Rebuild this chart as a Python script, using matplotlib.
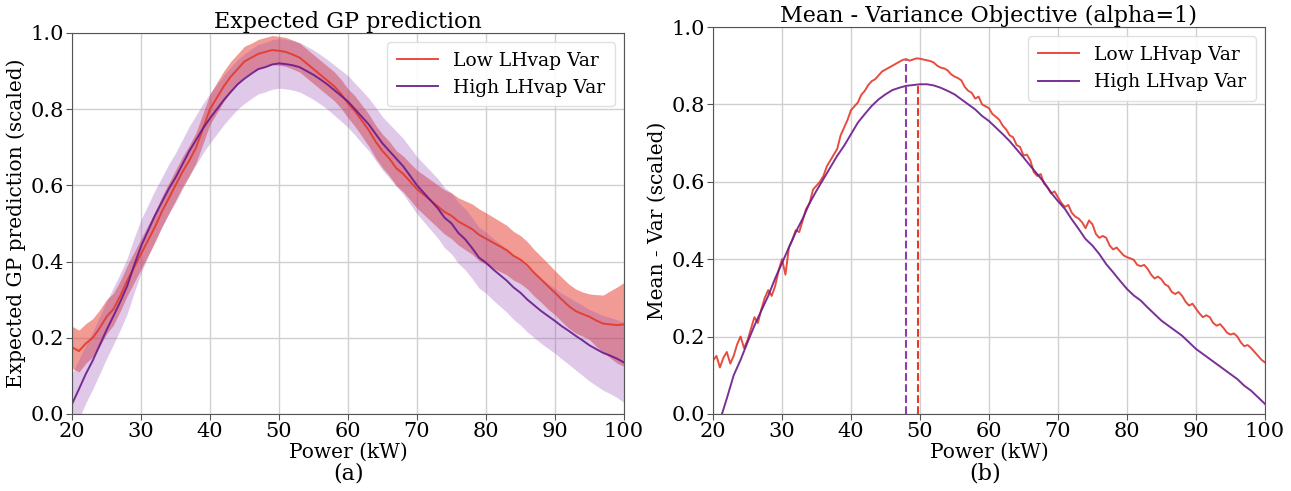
import numpy as np
import matplotlib
matplotlib.use('Agg')
import matplotlib.pyplot as plt

plt.rcParams['font.family'] = ['DejaVu Serif']

RED = '#e5392a'
PURPLE = '#6a1a8c'

# left panel: expected GP prediction, 20..100 kW in 1 kW steps
power = list(range(20, 101))

low_mean = [0.175, 0.165, 0.185, 0.200, 0.225, 0.255, 0.275, 0.310, 0.350, 0.385,
            0.420, 0.455, 0.490, 0.530, 0.565, 0.600, 0.635, 0.665, 0.700, 0.750,
            0.800, 0.830, 0.860, 0.885, 0.905, 0.925, 0.935, 0.945, 0.950, 0.955,
            0.953, 0.950, 0.943, 0.935, 0.920, 0.905, 0.890, 0.875, 0.860, 0.840,
            0.815, 0.795, 0.770, 0.745, 0.715, 0.690, 0.670, 0.645, 0.630, 0.610,
            0.590, 0.575, 0.560, 0.545, 0.530, 0.520, 0.505, 0.495, 0.485, 0.470,
            0.460, 0.450, 0.440, 0.430, 0.415, 0.405, 0.390, 0.370, 0.353, 0.335,
            0.318, 0.300, 0.283, 0.270, 0.262, 0.255, 0.245, 0.237, 0.235, 0.233,
            0.235]
low_band = [0.055, 0.055, 0.052, 0.050, 0.048, 0.045, 0.042, 0.040, 0.040, 0.040,
            0.040, 0.040, 0.040, 0.040, 0.040, 0.040, 0.040, 0.040, 0.040, 0.040,
            0.040, 0.040, 0.040, 0.040, 0.040, 0.040, 0.038, 0.038, 0.038, 0.038,
            0.038, 0.038, 0.038, 0.038, 0.038, 0.038, 0.038, 0.038, 0.038, 0.038,
            0.038, 0.040, 0.041, 0.042, 0.043, 0.044, 0.045, 0.046, 0.047, 0.048,
            0.050, 0.052, 0.054, 0.056, 0.058, 0.060, 0.062, 0.064, 0.066, 0.068,
            0.068, 0.067, 0.066, 0.065, 0.064, 0.063, 0.062, 0.061, 0.060, 0.060,
            0.058, 0.058, 0.058, 0.058, 0.058, 0.060, 0.068, 0.075, 0.088, 0.100,
            0.110]

high_mean = [0.026, 0.065, 0.105, 0.140, 0.180, 0.220, 0.257, 0.295, 0.336, 0.390,
             0.440, 0.480, 0.520, 0.555, 0.590, 0.620, 0.655, 0.690, 0.720, 0.750,
             0.776, 0.800, 0.824, 0.845, 0.865, 0.880, 0.893, 0.905, 0.910, 0.917,
             0.920, 0.918, 0.915, 0.910, 0.900, 0.890, 0.878, 0.865, 0.850, 0.835,
             0.820, 0.800, 0.780, 0.760, 0.735, 0.710, 0.690, 0.670, 0.650, 0.625,
             0.600, 0.580, 0.560, 0.540, 0.515, 0.500, 0.475, 0.458, 0.435, 0.410,
             0.397, 0.380, 0.365, 0.350, 0.332, 0.318, 0.300, 0.285, 0.270, 0.257,
             0.244, 0.230, 0.218, 0.205, 0.193, 0.180, 0.170, 0.160, 0.153, 0.145,
             0.135]
high_band = [0.080, 0.078, 0.076, 0.075, 0.075, 0.075, 0.075, 0.074, 0.073, 0.072,
             0.070, 0.068, 0.066, 0.065, 0.065, 0.065, 0.065, 0.065, 0.065, 0.065,
             0.065, 0.065, 0.065, 0.065, 0.065, 0.065, 0.065, 0.065, 0.065, 0.065,
             0.065, 0.065, 0.065, 0.065, 0.065, 0.065, 0.065, 0.065, 0.066, 0.067,
             0.068, 0.068, 0.069, 0.069, 0.070, 0.070, 0.071, 0.072, 0.073, 0.074,
             0.075, 0.076, 0.077, 0.078, 0.079, 0.080, 0.080, 0.080, 0.080, 0.080,
             0.080, 0.081, 0.082, 0.083, 0.084, 0.085, 0.085, 0.085, 0.085, 0.085,
             0.085, 0.086, 0.088, 0.090, 0.092, 0.094, 0.096, 0.098, 0.100, 0.102,
             0.105]

# right panel: mean - variance objective
power_fine = [20 + 0.5 * i for i in range(161)]
mv_low = [0.138, 0.150, 0.120, 0.145, 0.160, 0.130, 0.150, 0.180, 0.200, 0.170,
          0.190, 0.220, 0.250, 0.235, 0.270, 0.300, 0.320, 0.305, 0.330, 0.370,
          0.400, 0.360, 0.430, 0.450, 0.475, 0.470, 0.500, 0.530, 0.545, 0.580,
          0.590, 0.600, 0.615, 0.640, 0.655, 0.670, 0.685, 0.720, 0.740, 0.760,
          0.785, 0.795, 0.805, 0.825, 0.835, 0.850, 0.860, 0.865, 0.875, 0.885,
          0.890, 0.895, 0.900, 0.905, 0.910, 0.915, 0.917, 0.913, 0.916, 0.919,
          0.918, 0.916, 0.914, 0.912, 0.908, 0.900, 0.895, 0.893, 0.888, 0.878,
          0.872, 0.868, 0.862, 0.845, 0.835, 0.830, 0.815, 0.820, 0.800, 0.795,
          0.790, 0.775, 0.768, 0.760, 0.745, 0.735, 0.720, 0.715, 0.695, 0.690,
          0.668, 0.670, 0.655, 0.625, 0.615, 0.620, 0.595, 0.585, 0.570, 0.575,
          0.560, 0.545, 0.535, 0.540, 0.520, 0.510, 0.505, 0.495, 0.480, 0.500,
          0.490, 0.465, 0.455, 0.460, 0.455, 0.435, 0.425, 0.430, 0.420, 0.410,
          0.405, 0.402, 0.398, 0.385, 0.382, 0.385, 0.375, 0.360, 0.350, 0.355,
          0.348, 0.335, 0.330, 0.315, 0.310, 0.315, 0.305, 0.290, 0.280, 0.285,
          0.272, 0.260, 0.250, 0.255, 0.250, 0.235, 0.228, 0.232, 0.222, 0.210,
          0.205, 0.208, 0.200, 0.185, 0.175, 0.178, 0.170, 0.160, 0.150, 0.140,
          0.133]

power_high = [21.3] + list(range(22, 101))
mv_high = [0.000, 0.040, 0.100, 0.140, 0.185, 0.228, 0.267, 0.305, 0.350, 0.390,
           0.430, 0.470, 0.505, 0.545, 0.577, 0.607, 0.637, 0.667, 0.693, 0.723,
           0.753, 0.775, 0.796, 0.813, 0.826, 0.837, 0.843, 0.848, 0.850, 0.852,
           0.852, 0.849, 0.843, 0.835, 0.826, 0.813, 0.800, 0.787, 0.770, 0.757,
           0.740, 0.723, 0.705, 0.684, 0.663, 0.641, 0.620, 0.598, 0.572, 0.550,
           0.530, 0.503, 0.478, 0.452, 0.435, 0.413, 0.387, 0.366, 0.344, 0.323,
           0.306, 0.293, 0.275, 0.258, 0.241, 0.228, 0.215, 0.202, 0.185, 0.168,
           0.155, 0.142, 0.129, 0.116, 0.103, 0.090, 0.073, 0.060, 0.043, 0.026]

# optimum markers (x position, height of dashed line)
opt_high = (48.0, 0.916)
opt_low = (49.7, 0.852)


def style_axes(ax):
    ax.set_xlim(20, 100)
    ax.set_ylim(0, 1.0)
    ax.set_xticks(range(20, 101, 10))
    ax.set_yticks([0.0, 0.2, 0.4, 0.6, 0.8, 1.0])
    ax.grid(True, color='#d0d0d0', linewidth=1.0)
    ax.set_axisbelow(True)
    for s in ax.spines.values():
        s.set_color('#555555')
    ax.tick_params(labelsize=15, color='#555555', length=4, pad=2)
    ax.set_xlabel('Power (kW)', fontsize=14.5, labelpad=1)
    ax.legend(loc='upper right', fontsize=13.5, framealpha=0.9, edgecolor='#dddddd',
              handlelength=2.2, borderpad=0.5)


fig = plt.figure(figsize=(12.91, 4.91), dpi=100)
ax1 = fig.add_axes([0.0558, 0.157, 0.4275, 0.776])
ax2 = fig.add_axes([0.5523, 0.157, 0.4275, 0.788])

x = np.array(power)
lm, lb = np.array(low_mean), np.array(low_band)
hm, hb = np.array(high_mean), np.array(high_band)
ax1.fill_between(x, lm - lb, lm + lb, color=RED, alpha=0.5, linewidth=0)
ax1.fill_between(x, hm - hb, hm + hb, color='#9b4fb5', alpha=0.3, linewidth=0)
ax1.plot(x, lm, color=RED, lw=1.4, label='Low LHvap Var', alpha=0.9)
ax1.plot(x, hm, color=PURPLE, lw=1.4, label='High LHvap Var', alpha=0.9)
ax1.set_ylabel('Expected GP prediction (scaled)', fontsize=14.5, labelpad=3)
ax1.set_title('Expected GP prediction', fontsize=16, pad=3)
style_axes(ax1)

ax2.plot(power_fine, mv_low, color=RED, lw=1.4, label='Low LHvap Var', alpha=0.9)
ax2.plot(power_high, mv_high, color=PURPLE, lw=1.4, label='High LHvap Var', alpha=0.9)
ax2.plot([opt_high[0], opt_high[0]], [0, opt_high[1]], color='#8e3bb0', ls='--', lw=1.5)
ax2.plot([opt_low[0], opt_low[0]], [0, opt_low[1]], color=RED, ls='--', lw=1.5)
ax2.set_ylabel('Mean - Var (scaled)', fontsize=14.5, labelpad=3)
ax2.set_title('Mean - Variance Objective (alpha=1)', fontsize=16, pad=3)
style_axes(ax2)

fig.text(0.27, 0.035, '(a)', ha='center', va='center', fontsize=16)
fig.text(0.763, 0.035, '(b)', ha='center', va='center', fontsize=16)

fig.savefig('out.png', dpi=100, facecolor='white')
